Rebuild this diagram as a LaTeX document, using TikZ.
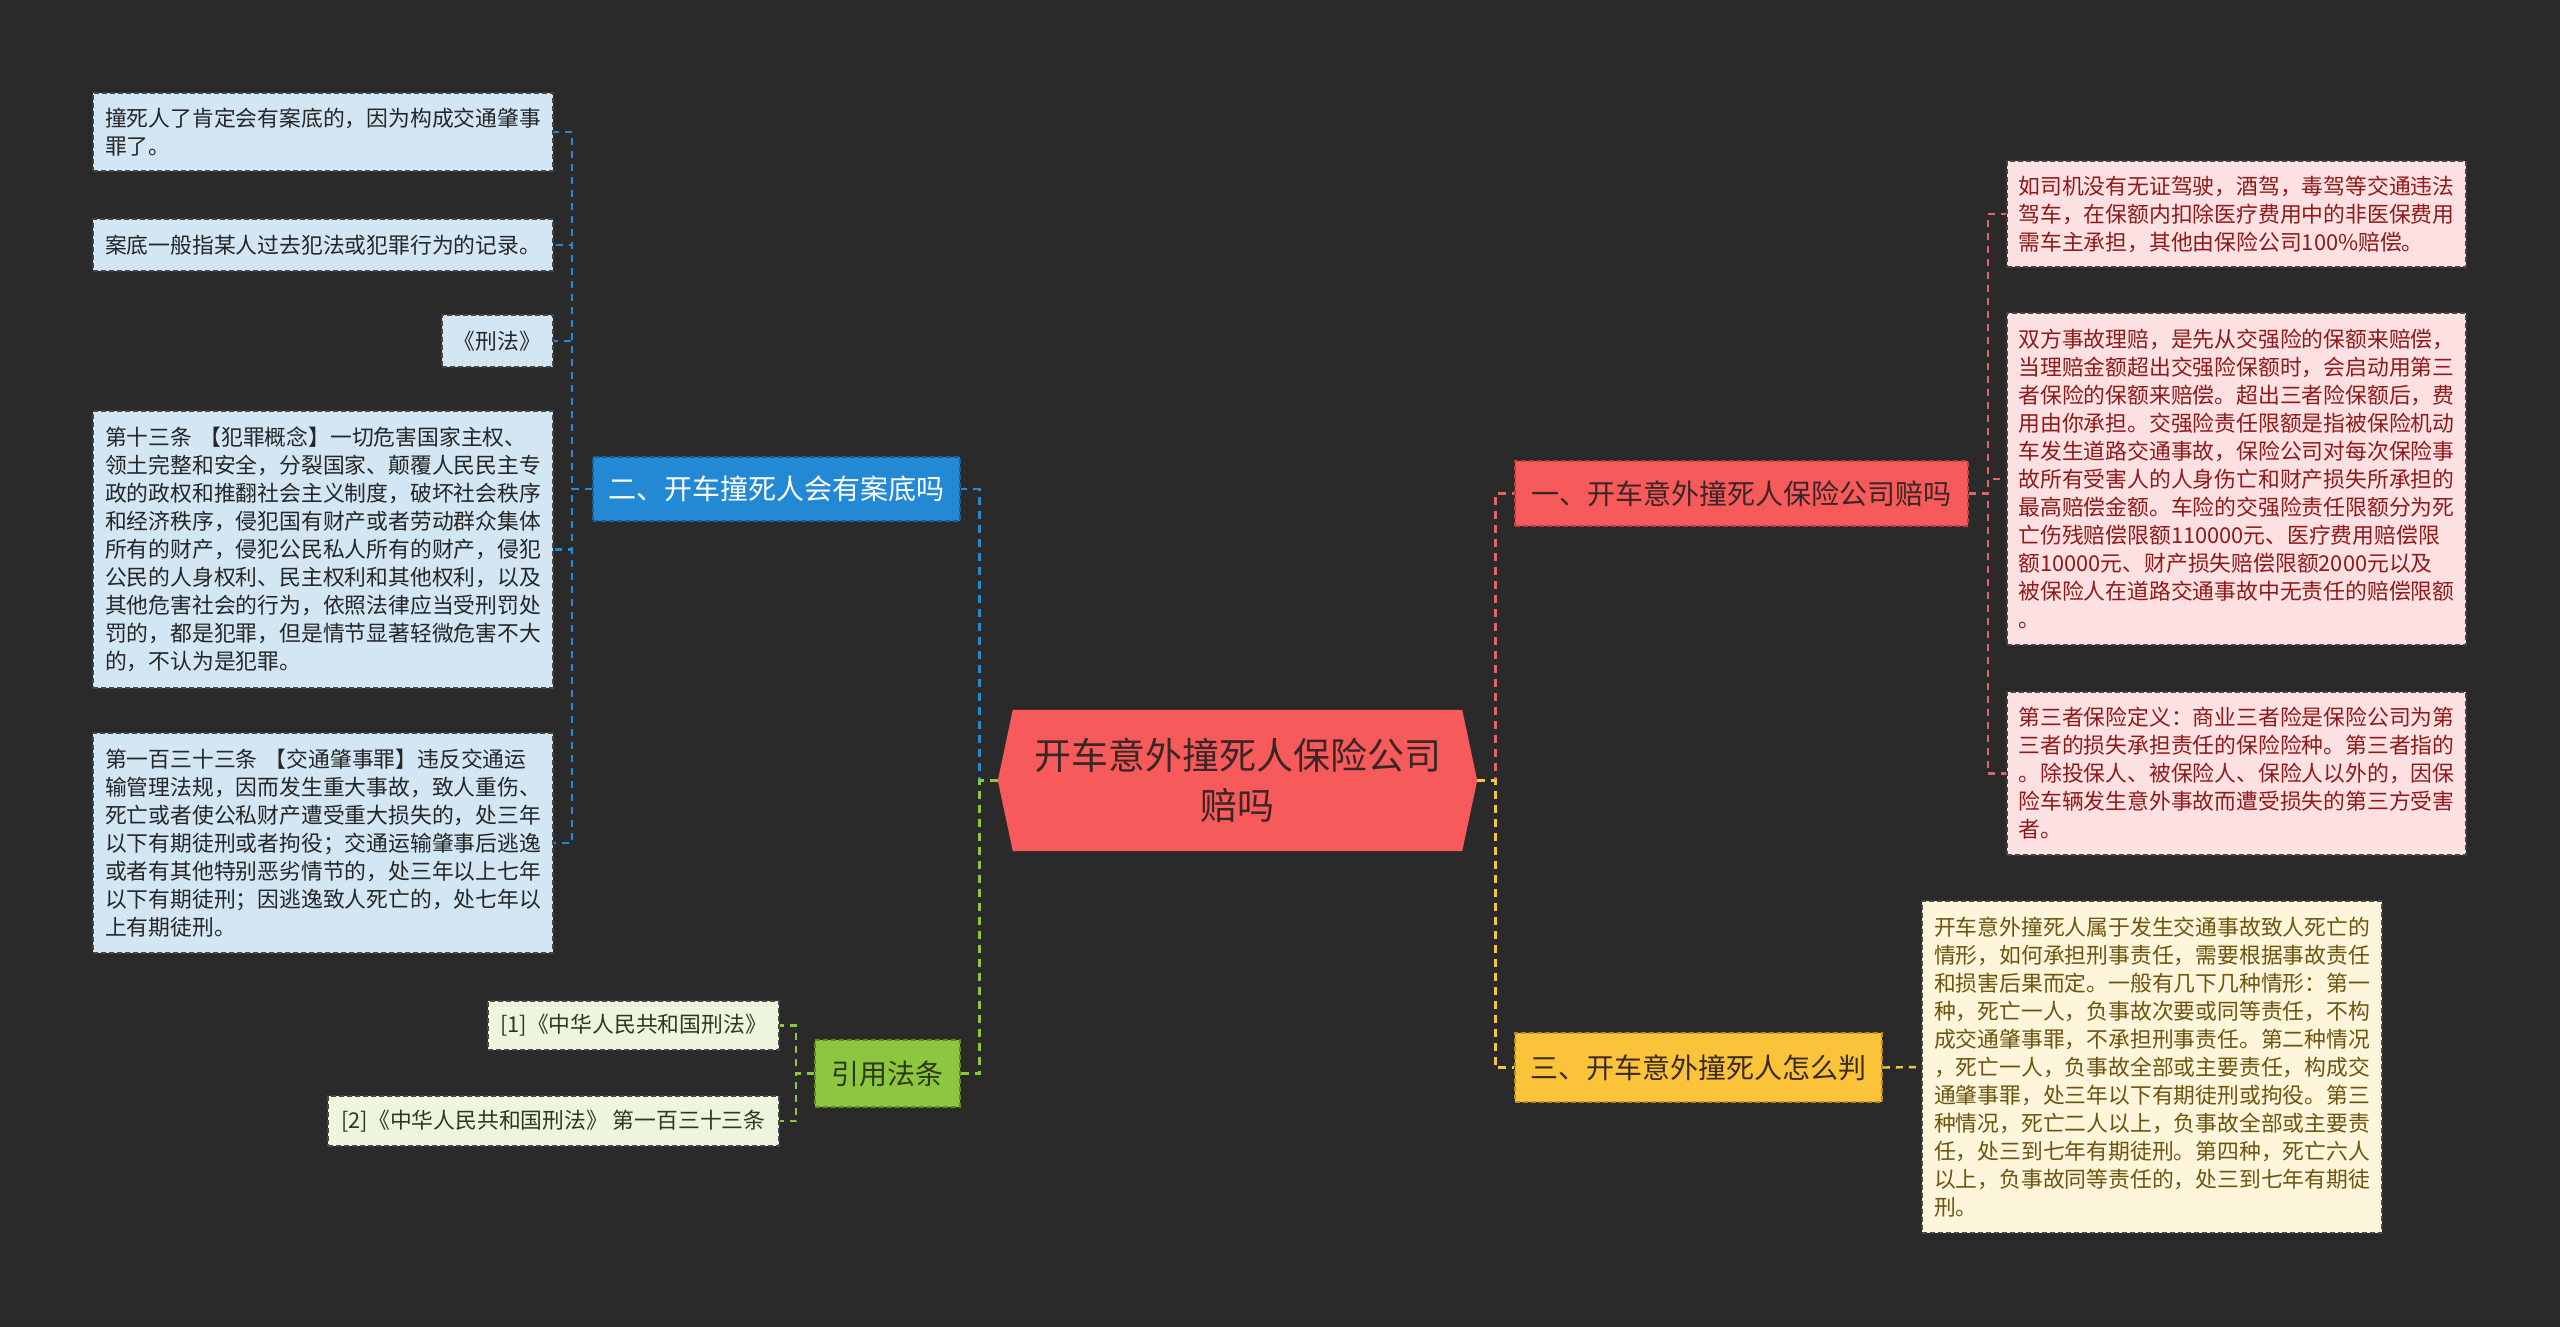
\documentclass[tikz,border=0pt]{standalone}
\usepackage{fontspec}
\setmainfont{Noto Sans CJK SC}
\usetikzlibrary{calc}
\definecolor{bg}{HTML}{2A2A2A}
\definecolor{cHub}{HTML}{F65A5B}
\definecolor{cHubText}{HTML}{3A2626}
\definecolor{cBlue}{HTML}{2489D5}
\definecolor{cBlueEdge}{HTML}{1B5E95}
\definecolor{cRed}{HTML}{F65A5B}
\definecolor{cRedEdge}{HTML}{B84040}
\definecolor{cRedLine}{HTML}{E36466}
\definecolor{cGreen}{HTML}{8DC63F}
\definecolor{cGreenEdge}{HTML}{5E8A22}
\definecolor{cYellow}{HTML}{FBC33A}
\definecolor{cYellowEdge}{HTML}{B88A20}
\definecolor{cYellowLine}{HTML}{F3C640}
\definecolor{cLeafB}{HTML}{D3E6F3}
\definecolor{cLeafBText}{HTML}{262626}
\definecolor{cLeafR}{HTML}{FDE0E1}
\definecolor{cLeafRText}{HTML}{8E1B1B}
\definecolor{cLeafG}{HTML}{EEF5DE}
\definecolor{cLeafGText}{HTML}{2C3A18}
\definecolor{cLeafY}{HTML}{FDF6DA}
\definecolor{cLeafYText}{HTML}{6E5410}
\definecolor{cLeafEdge}{HTML}{454545}
\definecolor{cDarkText}{HTML}{3A2A22}
\pgfdeclarelayer{background}
\pgfsetlayers{background,main}
\tikzset{
  leafbase/.style={rectangle, inner sep=0pt, line width=1.5pt, dash pattern=on 5pt off 3pt, draw=cLeafEdge, font=\fontsize{21.8pt}{28pt}\selectfont},
  leafblue/.style={leafbase, fill=cLeafB, text=cLeafBText},
  leafred/.style={leafbase, fill=cLeafR, text=cLeafRText},
  leafgreen/.style={leafbase, fill=cLeafG, text=cLeafGText},
  leafyellow/.style={leafbase, fill=cLeafY, text=cLeafYText},
  branchbase/.style={rectangle, inner sep=0pt, line width=1.5pt, dash pattern=on 5pt off 3pt, font=\fontsize{28pt}{34pt}\selectfont},
  conn/.style={line width=2.8pt, dash pattern=on 8pt off 6pt},
  subconn/.style={line width=2.4pt, dash pattern=on 7pt off 6pt}
}
\begin{document}
\begin{tikzpicture}[x=1pt,y=-1pt]
\useasboundingbox (0,0) rectangle (2560,1327);
\begin{pgfonlayer}{background}
\fill[bg] (0,0) rectangle (2560,1327);
\end{pgfonlayer}

% central topic
\node[rectangle, inner sep=0pt, minimum width=479pt, minimum height=141pt, align=center,
      text=cHubText, font=\fontsize{37pt}{50pt}\selectfont] (hub) at (1237.5,780.5)
      {开车意外撞死人保险公司\\赔吗};
\begin{pgfonlayer}{background}
\fill[cHub] ($(hub.north west)+(15,0)$) -- (hub.west) -- ($(hub.south west)+(15,0)$)
  -- ($(hub.south east)+(-15,0)$) -- (hub.east) -- ($(hub.north east)+(-15,0)$) -- cycle;
\end{pgfonlayer}

% branches
\node[branchbase, fill=cBlue, draw=cBlueEdge, text=white, minimum width=367pt, minimum height=64pt] (b2) at (776.5,489) {二、开车撞死人会有案底吗};
\node[branchbase, fill=cGreen, draw=cGreenEdge, text=cLeafGText, minimum width=145pt, minimum height=67pt] (bg) at (887.5,1073.5) {引用法条};
\node[branchbase, fill=cRed, draw=cRedEdge, text=cHubText, minimum width=453pt, minimum height=65pt] (b1) at (1741.5,493.5) {一、开车意外撞死人保险公司赔吗};
\node[branchbase, fill=cYellow, draw=cYellowEdge, text=cDarkText, minimum width=367pt, minimum height=69pt] (b3) at (1698.5,1067.5) {三、开车意外撞死人怎么判};

% blue leaves
\node[leafblue, minimum width=460pt, minimum height=78pt, text width=436pt, align=left] (l1) at (323,132)
 {撞死人了肯定会有案底的，因为构成交通肇事\\罪了。};
\node[leafblue, minimum width=460pt, minimum height=52pt] (l2) at (323,245)
 {案底一般指某人过去犯法或犯罪行为的记录。};
\node[leafblue, minimum width=111pt, minimum height=52pt] (l3) at (497.5,341)
 {《刑法》};
\node[leafblue, minimum width=460pt, minimum height=277pt, text width=436pt, align=left] (l4) at (323,549.5)
 {第十三条 【犯罪概念】一切危害国家主权、\\领土完整和安全，分裂国家、颠覆人民民主专\\政的政权和推翻社会主义制度，破坏社会秩序\\和经济秩序，侵犯国有财产或者劳动群众集体\\所有的财产，侵犯公民私人所有的财产，侵犯\\公民的人身权利、民主权利和其他权利，以及\\其他危害社会的行为，依照法律应当受刑罚处\\罚的，都是犯罪，但是情节显著轻微危害不大\\的，不认为是犯罪。};
\node[leafblue, minimum width=460pt, minimum height=220pt, text width=436pt, align=left] (l5) at (323,843)
 {第一百三十三条 【交通肇事罪】违反交通运\\输管理法规，因而发生重大事故，致人重伤、\\死亡或者使公私财产遭受重大损失的，处三年\\以下有期徒刑或者拘役；交通运输肇事后逃逸\\或者有其他特别恶劣情节的，处三年以上七年\\以下有期徒刑；因逃逸致人死亡的，处七年以\\上有期徒刑。};

% green leaves
\node[leafgreen, minimum width=291pt, minimum height=49pt] (g1) at (633.5,1025.5)
 {[1]《中华人民共和国刑法》};
\node[leafgreen, minimum width=451pt, minimum height=50pt] (g2) at (553.5,1121)
 {[2]《中华人民共和国刑法》 第一百三十三条};

% red leaves
\node[leafred, minimum width=459pt, minimum height=106pt, text width=436pt, align=left] (r1) at (2236.5,214)
 {如司机没有无证驾驶，酒驾，毒驾等交通违法\\驾车，在保额内扣除医疗费用中的非医保费用\\需车主承担，其他由保险公司100\%赔偿。};
\node[leafred, minimum width=459pt, minimum height=332pt, text width=436pt, align=left] (r2) at (2236.5,479)
 {双方事故理赔，是先从交强险的保额来赔偿，\\当理赔金额超出交强险保额时，会启动用第三\\者保险的保额来赔偿。超出三者险保额后，费\\用由你承担。交强险责任限额是指被保险机动\\车发生道路交通事故，保险公司对每次保险事\\故所有受害人的人身伤亡和财产损失所承担的\\最高赔偿金额。车险的交强险责任限额分为死\\亡伤残赔偿限额110000元、医疗费用赔偿限\\额10000元、财产损失赔偿限额2000元以及\\被保险人在道路交通事故中无责任的赔偿限额\\。};
\node[leafred, minimum width=459pt, minimum height=163pt, text width=436pt, align=left] (r3) at (2236.5,773.5)
 {第三者保险定义：商业三者险是保险公司为第\\三者的损失承担责任的保险险种。第三者指的\\。除投保人、被保险人、保险人以外的，因保\\险车辆发生意外事故而遭受损失的第三方受害\\者。};

% yellow leaf
\node[leafyellow, minimum width=460pt, minimum height=332pt, text width=436pt, align=left] (y1) at (2152,1067)
 {开车意外撞死人属于发生交通事故致人死亡的\\情形，如何承担刑事责任，需要根据事故责任\\和损害后果而定。一般有几下几种情形：第一\\种，死亡一人，负事故次要或同等责任，不构\\成交通肇事罪，不承担刑事责任。第二种情况\\，死亡一人，负事故全部或主要责任，构成交\\通肇事罪，处三年以下有期徒刑或拘役。第三\\种情况，死亡二人以上，负事故全部或主要责\\任，处三到七年有期徒刑。第四种，死亡六人\\以上，负事故同等责任的，处三到七年有期徒\\刑。};

% connectors
\begin{pgfonlayer}{background}
\draw[conn, draw=cBlue] (hub.west) -- ++(-18,0) |- (b2.east);
\draw[conn, draw=cGreen] (hub.west) -- ++(-18,0) |- (bg.east);
\draw[conn, draw=cRedLine] (hub.east) -- ++(18,0) |- (b1.west);
\draw[conn, draw=cYellowLine] (hub.east) -- ++(18,0) |- (b3.west);

\foreach \n in {l1,l2,l3,l4,l5}
  \draw[subconn, draw=cBlue] (b2.west) -- ++(-20,0) |- (\n.east);
\foreach \n in {g1,g2}
  \draw[subconn, draw=cGreen] (bg.west) -- ++(-18,0) |- (\n.east);
\foreach \n in {r1,r2,r3}
  \draw[subconn, draw=cRedLine] (b1.east) -- ++(19,0) |- (\n.west);
\draw[subconn, draw=cYellowLine] (b3.east) -- (y1.west);
\end{pgfonlayer}
\end{tikzpicture}
\end{document}
